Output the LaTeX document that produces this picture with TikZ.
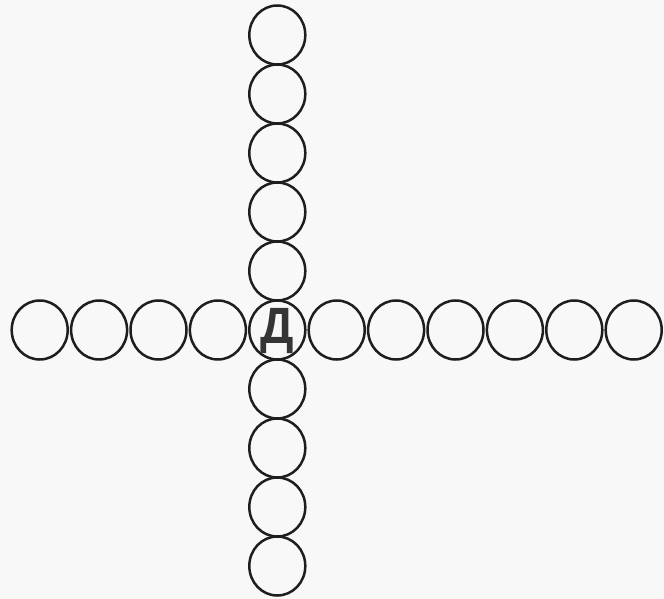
\documentclass[tikz,border=0pt]{standalone}
\usepackage{fontspec}
\newfontfamily\lettfont{Liberation Sans}
\usetikzlibrary{shapes.geometric}
\definecolor{ink}{HTML}{1E1E1E}
\definecolor{paper}{HTML}{F8F8F8}
\tikzset{
  cell/.style={ellipse, draw=ink, line width=2.5pt, minimum width=56pt, minimum height=59pt, inner sep=0pt},
  letter/.style={inner sep=0pt, font=\lettfont\bfseries\fontsize{51}{51}\selectfont, text=ink!90}
}
\begin{document}
\begin{tikzpicture}[x=1pt,y=-1pt]
\fill[paper] (0,0) rectangle (664,599);
\useasboundingbox (0,0) rectangle (664,599);
% horizontal row
\foreach \i in {0,1,2,3,5,6,7,8,9,10}{
  \node[cell] (h\i) at ({39.7+59.4*\i},330) {};
}
\node[cell] (d) at (277.3,330) {};
\node[letter] (dl) at ([yshift=-1.5pt]d.center) {\scalebox{0.92}[1]{Д}};
% vertical column
\foreach \k in {-5,-4,-3,-2,-1,1,2,3,4}{
  \node[cell] (v\k) at (277.3,{330+59*\k}) {};
}
\end{tikzpicture}
\end{document}
